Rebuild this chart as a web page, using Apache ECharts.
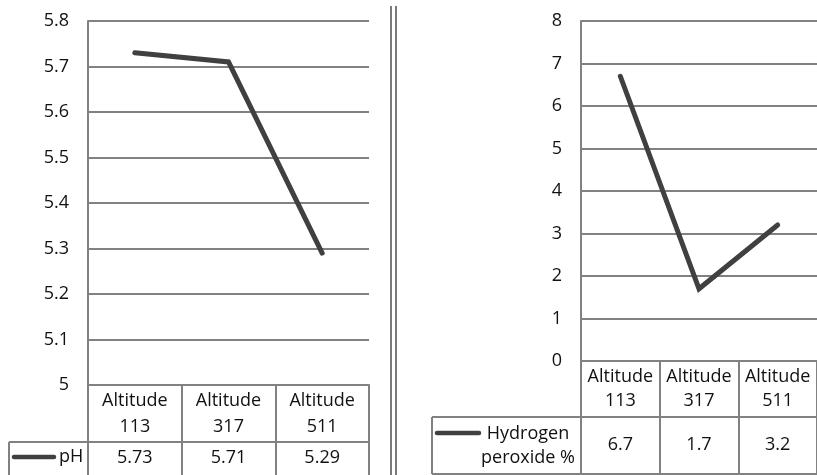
<!DOCTYPE html>
<html>
<head>
<meta charset="utf-8">
<script src="https://cdn.jsdelivr.net/npm/echarts@6/dist/echarts.min.js"></script>
<style>
  html, body { margin: 0; padding: 0; background: #fff; }
  #chart { width: 817px; height: 475px; }
</style>
</head>
<body>
<div id="chart"></div>
<script>
// Sampling sites
const categories = ['Altitude\n113', 'Altitude\n317', 'Altitude\n511'];
// pH at each altitude
const phValues = [5.73, 5.71, 5.29];
// Hydrogen peroxide (%) at each altitude
const h2o2Values = [6.7, 1.7, 3.2];
// Series names shown in the data tables
const phName = 'pH';
const h2o2Name = 'Hydrogen\nperoxide %';

const FONT = '"Open Sans", "Noto Sans", sans-serif';
const TEXT = '#111111';
const GRID = '#818181';
const LINE = '#404040';
const FS = 18;

const chart = echarts.init(document.getElementById('chart'), null, { renderer: 'canvas' });

function textStyle(extra) {
  return Object.assign({ color: TEXT, fontFamily: FONT, fontSize: FS }, extra || {});
}

function seg(x1, y1, x2, y2, w, color) {
  return {
    type: 'line',
    shape: { x1, y1, x2, y2 },
    style: { stroke: color || GRID, lineWidth: w || 2 },
    silent: true
  };
}

const option = {
  animation: false,
  backgroundColor: '#fff',
  grid: [
    { left: 88, top: 21, width: 281, height: 364 },
    { left: 581, top: 21, width: 243, height: 340 }
  ],
  xAxis: [
    // header row of the pH table
    {
      gridIndex: 0, type: 'category', data: categories, boundaryGap: true,
      axisLine: { show: true, lineStyle: { color: GRID, width: 2 } },
      axisTick: { show: true, length: 90, lineStyle: { color: GRID, width: 2 } },
      axisLabel: textStyle({ margin: 29, lineHeight: 26, verticalAlign: 'middle', align: 'center', interval: 0 }),
      splitLine: { show: false }
    },
    // value row of the pH table
    {
      gridIndex: 0, type: 'category', data: categories, position: 'bottom', offset: 57,
      axisLine: { show: false }, axisTick: { show: false },
      axisLabel: textStyle({ margin: 16, verticalAlign: 'middle', interval: 0,
        formatter: (v, i) => String(phValues[i]) }),
      splitLine: { show: false }
    },
    // header row of the hydrogen peroxide table
    {
      gridIndex: 1, type: 'category', data: categories, boundaryGap: true,
      axisLine: { show: true, lineStyle: { color: GRID, width: 2 } },
      axisTick: { show: true, length: 113, lineStyle: { color: GRID, width: 2 } },
      axisLabel: textStyle({ margin: 28, lineHeight: 24, verticalAlign: 'middle', align: 'center', interval: 0 }),
      splitLine: { show: false }
    },
    // value row of the hydrogen peroxide table
    {
      gridIndex: 1, type: 'category', data: categories, position: 'bottom', offset: 56,
      axisLine: { show: false }, axisTick: { show: false },
      axisLabel: textStyle({ margin: 28, verticalAlign: 'middle', interval: 0,
        formatter: (v, i) => String(h2o2Values[i]) }),
      splitLine: { show: false }
    }
  ],
  yAxis: [
    {
      gridIndex: 0, type: 'value', min: 5, max: 5.8, interval: 0.1,
      axisLine: { show: true, lineStyle: { color: GRID, width: 2 } },
      axisTick: { show: false },
      axisLabel: textStyle({ margin: 19 }),
      splitLine: { show: true, lineStyle: { color: GRID, width: 2 } }
    },
    {
      gridIndex: 1, type: 'value', min: 0, max: 8, interval: 1,
      axisLine: { show: true, lineStyle: { color: GRID, width: 2 } },
      axisTick: { show: false },
      axisLabel: textStyle({ margin: 19 }),
      splitLine: { show: true, lineStyle: { color: GRID, width: 2 } }
    }
  ],
  series: [
    {
      name: phName, type: 'line', xAxisIndex: 0, yAxisIndex: 0,
      data: phValues, showSymbol: false, symbol: 'none',
      lineStyle: { color: LINE, width: 5, cap: 'round', join: 'miter' }
    },
    {
      name: h2o2Name, type: 'line', xAxisIndex: 2, yAxisIndex: 1,
      data: h2o2Values, showSymbol: false, symbol: 'none',
      lineStyle: { color: LINE, width: 5, cap: 'round', join: 'miter' }
    }
  ],
  graphic: [
    // divider between the two charts
    seg(391, 6, 391, 475, 2, '#7a7a7a'),
    seg(396, 6, 396, 475, 2, '#7a7a7a'),
    // pH table: legend cell
    seg(9, 442, 369, 442),
    seg(9, 442, 9, 476),
    { type: 'line', shape: { x1: 14, y1: 457, x2: 54, y2: 457 },
      style: { stroke: LINE, lineWidth: 4.5, lineCap: 'round' }, silent: true },
    { type: 'text', x: 59, y: 457,
      style: { text: phName, fill: TEXT, font: FS + 'px ' + FONT, verticalAlign: 'middle' } },
    // hydrogen peroxide table: legend cell
    seg(432, 417, 830, 417),
    seg(432, 417, 432, 474),
    seg(432, 474, 830, 474),
    { type: 'line', shape: { x1: 437, y1: 433, x2: 479, y2: 433 },
      style: { stroke: LINE, lineWidth: 4.5, lineCap: 'round' }, silent: true },
    { type: 'text', x: 528, y: 446,
      style: { text: h2o2Name, fill: TEXT, font: FS + 'px ' + FONT,
        align: 'center', verticalAlign: 'middle', lineHeight: 24 } }
  ]
};

chart.setOption(option);
</script>
</body>
</html>
